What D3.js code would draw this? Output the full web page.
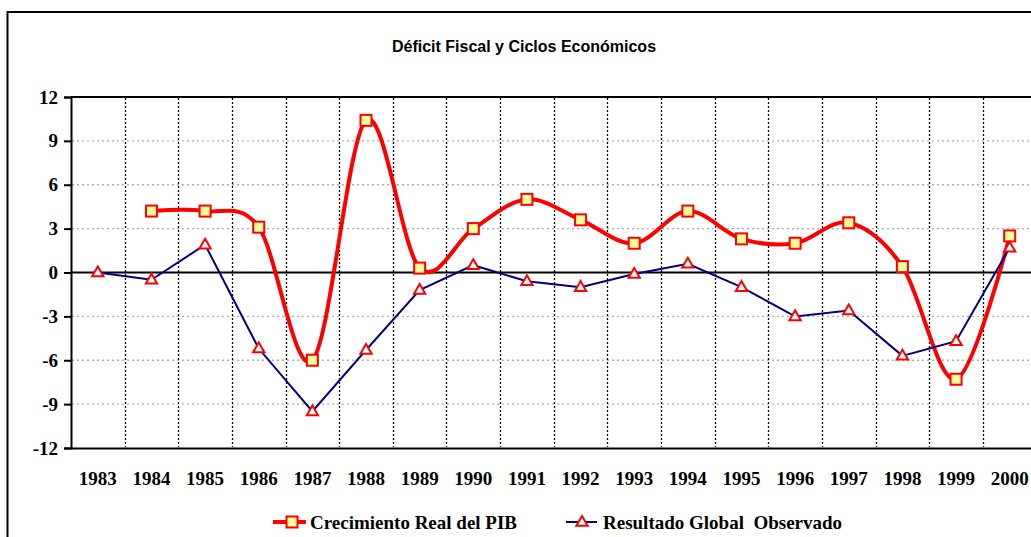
<!DOCTYPE html>
<html>
<head>
<meta charset="utf-8">
<script src="https://cdn.jsdelivr.net/npm/d3@7"></script>
<style>
  body { margin: 0; background: #fff; }
  svg { display: block; }
</style>
</head>
<body>
<div id="chart"></div>
<script>
// datos
const years = ["1983","1984","1985","1986","1987","1988","1989","1990","1991","1992",
               "1993","1994","1995","1996","1997","1998","1999","2000"];
const pib = [null, 4.2, 4.2, 3.1, -6.0, 10.4, 0.3, 3.0, 5.0, 3.6,
             2.0, 4.2, 2.3, 2.0, 3.4, 0.4, -7.3, 2.5];
const resultado = [0.0, -0.5, 1.9, -5.2, -9.5, -5.3, -1.2, 0.5, -0.6, -1.0,
                   -0.1, 0.6, -1.0, -3.0, -2.6, -5.7, -4.7, 1.7];
const yTicks = [-12, -9, -6, -3, 0, 3, 6, 9, 12];
const title = "Déficit Fiscal y Ciclos Económicos";
const legendNames = ["Crecimiento Real del PIB", "Resultado Global  Observado"];

const width = 1031, height = 537;
const serif = "'Liberation Serif', 'Times New Roman', serif";
const sans = "'Liberation Sans', Arial, sans-serif";

const svg = d3.select("#chart").append("svg")
    .attr("width", width)
    .attr("height", height);

// marco exterior
svg.append("rect")
    .attr("x", 7.5).attr("y", 12)
    .attr("width", 1040).attr("height", 540)
    .attr("fill", "none")
    .attr("stroke", "#000")
    .attr("stroke-width", 2);

// titulo
svg.append("text")
    .attr("x", 524).attr("y", 52)
    .attr("text-anchor", "middle")
    .attr("font-family", sans)
    .attr("font-weight", "bold")
    .attr("font-size", 16)
    .text(title);

const x = d3.scaleBand().domain(years).range([71, 1036.5]);
const y = d3.scaleLinear().domain([-12, 12]).range([448, 97]);
const cx = d => x(d) + x.bandwidth() / 2;

// lineas de division horizontales (grises punteadas)
svg.append("g").selectAll("line")
    .data(yTicks.filter(t => t !== 0 && t !== 12 && t !== -12))
    .enter().append("line")
    .attr("x1", 72).attr("x2", 1036)
    .attr("y1", d => y(d)).attr("y2", d => y(d))
    .attr("stroke", "#b0b0b0")
    .attr("stroke-width", 1.3)
    .attr("stroke-dasharray", "2,3");

// lineas verticales (negras punteadas)
svg.append("g").selectAll("line")
    .data(years.slice(1))
    .enter().append("line")
    .attr("x1", d => Math.round(x(d)) + 0.5).attr("x2", d => Math.round(x(d)) + 0.5)
    .attr("y1", 98).attr("y2", 447)
    .attr("stroke", "#000")
    .attr("stroke-width", 1.3)
    .attr("stroke-dasharray", "2,2");

// bordes del area
svg.append("line").attr("x1", 71).attr("x2", 1040).attr("y1", 97).attr("y2", 97)
    .attr("stroke", "#000").attr("stroke-width", 2);
svg.append("line").attr("x1", 71).attr("x2", 1040).attr("y1", y(0)).attr("y2", y(0))
    .attr("stroke", "#000").attr("stroke-width", 2);

// eje y
const yAxis = svg.append("g")
    .attr("transform", "translate(71,0)")
    .call(d3.axisLeft(y).tickValues(yTicks).tickSize(7).tickPadding(6)
        .tickFormat(d => String(d)));
yAxis.select(".domain").attr("stroke-width", 2);
yAxis.selectAll(".tick line").attr("stroke-width", 2);
yAxis.selectAll("text")
    .attr("font-family", serif)
    .attr("font-weight", "bold")
    .attr("font-size", 19)
    .attr("fill", "#000");

// eje x
const xAxis = svg.append("g")
    .attr("transform", "translate(0,448)")
    .call(d3.axisBottom(x).tickSize(0).tickPadding(24));
xAxis.select(".domain").attr("stroke-width", 2);
xAxis.selectAll("text")
    .attr("font-family", serif)
    .attr("font-weight", "bold")
    .attr("font-size", 19)
    .attr("fill", "#000");

// serie PIB (suavizada)
const pibPts = years.map((d, i) => ({ year: d, v: pib[i] })).filter(d => d.v !== null);
const linePib = d3.line()
    .x(d => cx(d.year))
    .y(d => y(d.v))
    .curve(d3.curveCardinal.tension(0));
svg.append("path")
    .datum(pibPts)
    .attr("d", linePib)
    .attr("fill", "none")
    .attr("stroke", "#ff0000")
    .attr("stroke-width", 4)
    .attr("stroke-linejoin", "round");
svg.append("g").selectAll("rect")
    .data(pibPts)
    .enter().append("rect")
    .attr("x", d => cx(d.year) - 5.5)
    .attr("y", d => y(d.v) - 5.5)
    .attr("width", 11).attr("height", 11)
    .attr("fill", "#ffff99")
    .attr("stroke", "#ff0000")
    .attr("stroke-width", 2);

// serie resultado global
const resPts = years.map((d, i) => ({ year: d, v: resultado[i] }));
const lineRes = d3.line()
    .x(d => cx(d.year))
    .y(d => y(d.v));
svg.append("path")
    .datum(resPts)
    .attr("d", lineRes)
    .attr("fill", "none")
    .attr("stroke", "#000080")
    .attr("stroke-width", 2);
const tri = d3.symbol().type(d3.symbolTriangle).size(55);
svg.append("g").selectAll("path")
    .data(resPts)
    .enter().append("path")
    .attr("transform", d => `translate(${cx(d.year)},${y(d.v) + 0.5})`)
    .attr("d", tri)
    .attr("fill", "#fff")
    .attr("stroke", "#ff0000")
    .attr("stroke-width", 2);

// leyenda
const ly = 522;
const lg = svg.append("g");
lg.append("line").attr("x1", 273).attr("x2", 306).attr("y1", ly).attr("y2", ly)
    .attr("stroke", "#ff0000").attr("stroke-width", 4);
lg.append("rect").attr("x", 286.5).attr("y", ly - 5.5).attr("width", 11).attr("height", 11)
    .attr("fill", "#ffff99").attr("stroke", "#ff0000").attr("stroke-width", 2);
lg.append("text").attr("x", 310).attr("y", ly + 6.5)
    .attr("font-family", serif).attr("font-weight", "bold").attr("font-size", 19)
    .text(legendNames[0]);
lg.append("line").attr("x1", 566).attr("x2", 597).attr("y1", ly).attr("y2", ly)
    .attr("stroke", "#000080").attr("stroke-width", 2);
lg.append("path").attr("transform", `translate(582,${ly + 0.5})`).attr("d", tri)
    .attr("fill", "#fff").attr("stroke", "#ff0000").attr("stroke-width", 2);
lg.append("text").attr("x", 603).attr("y", ly + 6.5)
    .attr("font-family", serif).attr("font-weight", "bold").attr("font-size", 19)
    .attr("xml:space", "preserve")
    .style("white-space", "pre")
    .text(legendNames[1]);
</script>
</body>
</html>
